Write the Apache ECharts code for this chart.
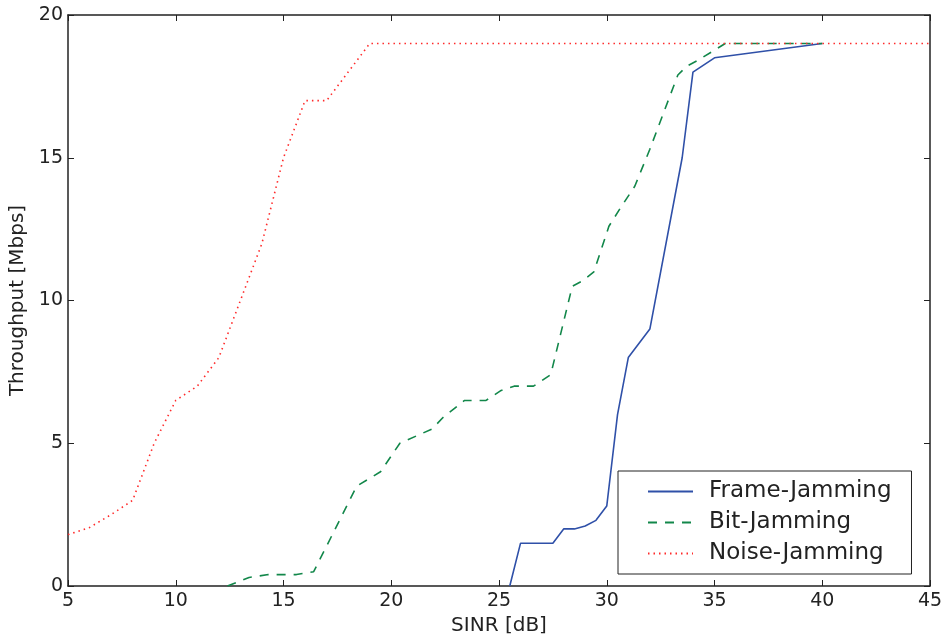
<!DOCTYPE html>
<html>
<head>
<meta charset="utf-8">
<script src="https://cdn.jsdelivr.net/npm/echarts@6/dist/echarts.min.js"></script>
<style>
  html, body { margin: 0; padding: 0; background: #fff; }
  #chart { width: 945px; height: 637px; }
</style>
</head>
<body>
<div id="chart"></div>
<script>
// values
var frameX = [25.5, 26, 27.5, 28, 28.5, 29, 29.5, 30, 30.5, 31, 32, 33.5, 34, 35, 40];
var frameY = [0, 1.5, 1.5, 2, 2, 2.1, 2.3, 2.8, 6, 8, 9, 15, 18, 18.5, 19];

var bitX = [12.4, 13.4, 14.3, 15.6, 16.4, 18.4, 19.5, 20.4, 21.9, 22.4, 23.4, 24.4, 25.1, 25.7, 26.6, 27.4, 28.4, 28.9, 29.4, 30.1, 30.6, 31.3, 32, 33.3, 33.7, 34.2, 35.5, 40];
var bitY = [0, 0.3, 0.4, 0.4, 0.5, 3.5, 4, 5, 5.5, 5.9, 6.5, 6.5, 6.85, 7, 7, 7.4, 10.5, 10.7, 11, 12.6, 13.2, 14, 15.3, 17.9, 18.2, 18.4, 19, 19];

var noiseX = [5, 6, 7, 8, 9, 10, 11, 12, 13, 14, 15, 16, 17, 18, 19, 45];
var noiseY = [1.8, 2.05, 2.5, 3, 5, 6.5, 7, 8, 10, 12, 15, 17, 17, 18, 19, 19];

var seriesNames = ['Frame-Jamming', 'Bit-Jamming', 'Noise-Jamming'];

function pairs(xs, ys) {
	return xs.map(function (x, i) { return [x, ys[i]] })
}

var textColor = '#222'
var fontFamily = 'DejaVu Sans'

function xAx(pos, labels) {
	return {
		type: 'value', position: pos, min: 5, max: 45, interval: 5,
		axisLine: { show: true, onZero: false, lineStyle: { color: '#222', width: 1.5 } },
		axisTick: { show: true, inside: true, length: 6, lineStyle: { color: '#222', width: 1 } },
		axisLabel: { show: labels, color: textColor, fontSize: 19, fontFamily: fontFamily, margin: 6 },
		splitLine: { show: false }
	}
}
function yAx(pos, labels) {
	return {
		type: 'value', position: pos, min: 0, max: 20, interval: 5,
		axisLine: { show: true, onZero: false, lineStyle: { color: '#222', width: 1.5 } },
		axisTick: { show: true, inside: true, length: 6, lineStyle: { color: '#222', width: 1 } },
		axisLabel: { show: labels, color: textColor, fontSize: 19, fontFamily: fontFamily, margin: 5 },
		splitLine: { show: false }
	}
}

var xBottom = xAx('bottom', true)
xBottom.name = 'SINR [dB]'
xBottom.nameLocation = 'middle'
xBottom.nameGap = 28
xBottom.nameTextStyle = { color: textColor, fontSize: 20, fontFamily: fontFamily }

var yLeft = yAx('left', true)
yLeft.name = 'Throughput [Mbps]'
yLeft.nameLocation = 'middle'
yLeft.nameGap = 38
yLeft.nameTextStyle = { color: textColor, fontSize: 20, fontFamily: fontFamily }

var mychart = echarts.init(document.getElementById('chart'))
var option = {
	animation: false,
	backgroundColor: '#fff',
	grid: { left: 68, right: 15, top: 15, bottom: 51, outerBoundsMode: 'none' },
	xAxis: [xBottom, xAx('top', false)],
	yAxis: [yLeft, yAx('right', false)],
	legend: {
		orient: 'vertical',
		left: 618,
		top: 471,
		padding: [9, 20, 9, 29],
		itemWidth: 45,
		itemHeight: 14,
		itemGap: 8,
		backgroundColor: '#fff',
		borderColor: '#222',
		borderWidth: 1,
		borderRadius: 0,
		itemStyle: { opacity: 0 },
		textStyle: { color: textColor, fontSize: 23, fontFamily: fontFamily, lineHeight: 23, padding: [0, 0, 0, 11] },
		data: seriesNames
	},
	series: [
		{
			name: seriesNames[0], type: 'line', symbol: 'none',
			data: pairs(frameX, frameY),
			lineStyle: { color: '#2f50a8', width: 1.6 },
			itemStyle: { color: '#2f50a8' }
		},
		{
			name: seriesNames[1], type: 'line', symbol: 'none',
			data: pairs(bitX, bitY),
			lineStyle: { color: '#12874a', width: 1.6, type: [9, 8] },
			itemStyle: { color: '#12874a' }
		},
		{
			name: seriesNames[2], type: 'line', symbol: 'none',
			data: pairs(noiseX, noiseY),
			lineStyle: { color: '#ff2a2a', width: 1.6, type: [1.5, 4] },
			itemStyle: { color: '#ff2a2a' }
		}
	]
}
mychart.setOption(option)
</script>
</body>
</html>
